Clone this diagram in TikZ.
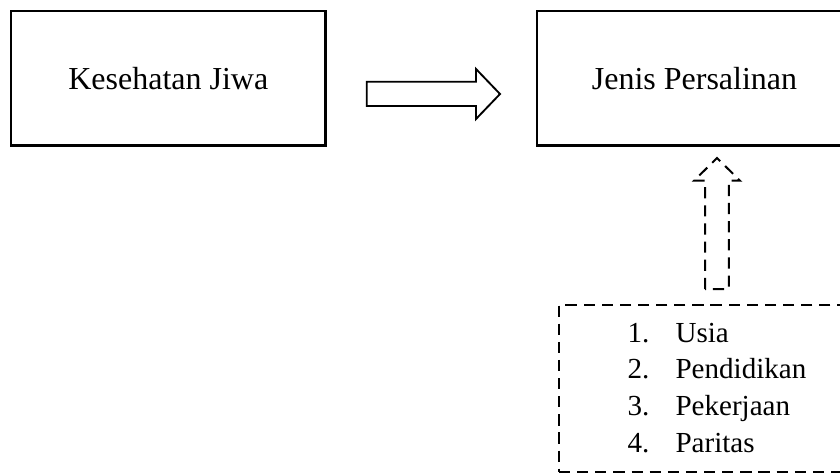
\documentclass[tikz,border=0pt]{standalone}
\usepackage{fontspec}
\setmainfont{Liberation Serif}
\tikzset{
	box/.style={draw,line width=.9pt,minimum width=118pt,minimum height=50.4pt,inner sep=0pt,font=\fontsize{12}{14}\selectfont},
	blockarrow/.style={draw,line width=.7pt,line join=miter},
	dashline/.style={draw,line width=.75pt,dash pattern=on 4.2pt off 2.6pt},
	item/.style={anchor=base west,inner sep=0pt,font=\fontsize{10.9}{13}\selectfont}
}
\begin{document}
\begin{tikzpicture}[x=.375pt,y=-.375pt]
	\useasboundingbox (0,0) rectangle (840,473);
	\clip (0,0) rectangle (840,473);
	% boxes
	\node[box] (jiwa) at (168.3,78.3) {Kesehatan Jiwa};
	\node[box] (persalinan) at (694.5,78.3) {Jenis Persalinan};
	% arrow between boxes
	\draw[blockarrow] (366.7,81.7) -- (476,81.7) -- (476,69) -- (500,94) -- (476,119) -- (476,106) -- (366.7,106) -- cycle;
	% dashed arrow up
	\draw[dashline,line join=miter] (705.2,289) -- (705.2,180.7) -- (694,180.7) -- (717,158) -- (740,180.7) -- (728.8,180.7) -- (728.8,289) -- cycle;
	% factors
	\node[dashline,anchor=north west,minimum width=125pt,minimum height=62.6pt,inner sep=0pt] (faktor) at (558,304) {};
	\foreach \n/\t [count=\i] in {1/Usia,2/Pendidikan,3/Pekerjaan,4/Paritas}
		\node[item] (item\i) at (627,{342+36.7*(\i-1)}) {\makebox[18pt][l]{\n.}\t};
\end{tikzpicture}
\end{document}
